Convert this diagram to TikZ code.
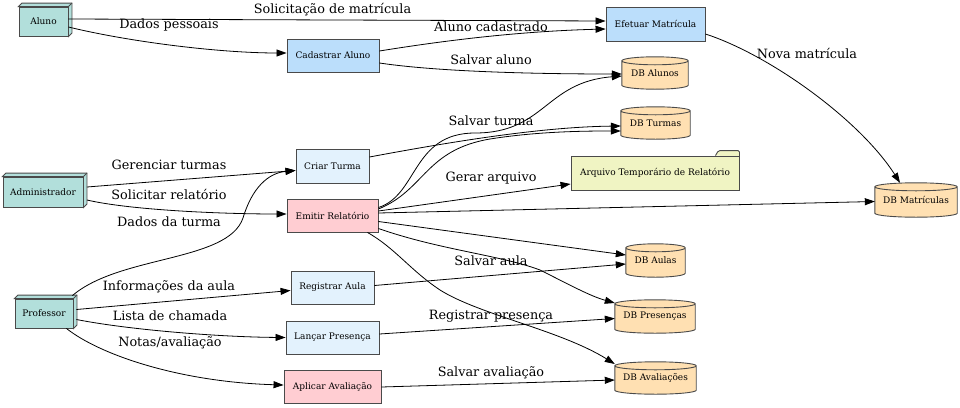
\documentclass[tikz,border=0pt]{standalone}
\usepackage{fontspec}
\setmainfont{DejaVu Serif}
\usetikzlibrary{arrows.meta,calc,backgrounds}
\definecolor{actfill}{HTML}{B2DFDB}
\definecolor{bluefill}{HTML}{BBDEFB}
\definecolor{lbluefill}{HTML}{E3F2FD}
\definecolor{redfill}{HTML}{FFCDD2}
\definecolor{dbfill}{HTML}{FFE0B2}
\definecolor{filefill}{HTML}{F0F4C3}
\definecolor{bordercol}{HTML}{4A4A4A}
\newcommand\lblfont{\fontsize{12.8}{14}\selectfont}
\newcommand\boxfont{\fontsize{9}{10}\selectfont}
\newcommand\dbcyl[1]{%
  \path let \p1=(#1.north west), \p2=(#1.south east), \n1={(\x2-\x1)/2} in
    [fill=dbfill, draw=bordercol, line width=0.9pt]
    (\x1,\y1-4pt) -- (\x1,\y2+4pt)
    arc[start angle=180,end angle=360,x radius=\n1*1pt,y radius=4pt]
    -- (\x2,\y1-4pt)
    arc[start angle=0,end angle=180,x radius=\n1*1pt,y radius=4pt] -- cycle
    (\x1,\y1-4pt) arc[start angle=180,end angle=360,x radius=\n1*1pt,y radius=4pt];
}
\newcommand\extrude[1]{%
  \draw[draw=bordercol, fill=actfill, line width=0.9pt]
    (#1.north west) -- ++(3.5pt,3.5pt) -- ([shift={(3.5pt,3.5pt)}]#1.north east)
    -- ([shift={(3.5pt,3.5pt)}]#1.south east) -- (#1.south east) -- (#1.north east) -- cycle;
  \draw[draw=bordercol, line width=0.9pt] (#1.north east) -- ++(3.5pt,3.5pt);
}
\begin{document}
\begin{tikzpicture}[x=1pt,y=-1pt,
  box/.style={rectangle, draw=bordercol, line width=0.9pt, font=\boxfont, inner sep=0pt},
  actor/.style={box, fill=actfill},
  dbnode/.style={rectangle, font=\boxfont, inner sep=0pt},
  lbl/.style={font=\lblfont, inner sep=0pt},
  flow/.style={-{Triangle[length=10pt,width=7pt]}, line width=0.8pt, black},
]
\useasboundingbox (0,0) rectangle (960,407);

% actors
\node[actor, minimum width=49pt, minimum height=29pt] (aluno) at (43.5,21.5) {Aluno};
\node[actor, minimum width=80pt, minimum height=30pt] (admin) at (43,192) {Administrador};
\node[actor, minimum width=58pt, minimum height=29pt] (prof) at (44,313.5) {Professor};

% processes
\node[box, fill=bluefill, minimum width=92pt, minimum height=33pt] (cadastrar) at (333,55.5) {Cadastrar Aluno};
\node[box, fill=bluefill, minimum width=99pt, minimum height=34pt] (efetuar) at (655.5,24) {Efetuar Matrícula};
\node[box, fill=lbluefill, minimum width=73pt, minimum height=34pt] (criar) at (332.5,166) {Criar Turma};
\node[box, fill=redfill, minimum width=91pt, minimum height=33pt] (emitir) at (332.5,215.5) {Emitir Relatório};
\node[box, fill=lbluefill, minimum width=83pt, minimum height=33pt] (registrar) at (332.5,287.5) {Registrar Aula};
\node[box, fill=lbluefill, minimum width=93pt, minimum height=33pt] (lancar) at (332.5,337.5) {Lançar Presença};
\node[box, fill=redfill, minimum width=97pt, minimum height=33pt] (aplicar) at (332.5,386.5) {Aplicar Avaliação};

% stores
\node[dbnode, minimum width=66pt, minimum height=32pt] (dbalunos) at (655,73) {DB Alunos};
\node[dbnode, minimum width=69pt, minimum height=32pt] (dbturmas) at (655.5,123) {DB Turmas};
\node[box, fill=filefill, minimum width=168pt, minimum height=34pt] (arquivo) at (655,173) {Arquivo Temporário de Relatório};
\node[dbnode, minimum width=59pt, minimum height=33pt] (dbaulas) at (655.5,260.5) {DB Aulas};
\node[dbnode, minimum width=80pt, minimum height=33pt] (dbpres) at (655,316.5) {DB Presenças};
\node[dbnode, minimum width=81pt, minimum height=32pt] (dbaval) at (655.5,378) {DB Avaliações};
\node[dbnode, minimum width=82pt, minimum height=34pt] (dbmat) at (916,200) {DB Matrículas};

\begin{pgfonlayer}{background}
  \extrude{aluno}
  \extrude{admin}
  \extrude{prof}
  \dbcyl{dbalunos}
  \dbcyl{dbturmas}
  \dbcyl{dbaulas}
  \dbcyl{dbpres}
  \dbcyl{dbaval}
  \dbcyl{dbmat}
  \draw[draw=bordercol, fill=filefill, line width=0.9pt, rounded corners=1.5pt]
    ([xshift=-24pt]arquivo.north east) -- ++(3pt,5pt)
    -- ([yshift=5pt]arquivo.north east) -- ([yshift=-1pt]arquivo.north east);
\end{pgfonlayer}

% flows
\draw[flow] ([yshift=2.5pt]aluno.east) -- ([yshift=3pt]efetuar.west);
\draw[flow] ([yshift=-5.5pt]aluno.east) .. controls (130,42) and (220,53) .. ([yshift=2.5pt]cadastrar.west);
\draw[flow] ([yshift=4.5pt]cadastrar.east) .. controls (460,38) and (530,31) .. ([yshift=-5pt]efetuar.west);
\draw[flow] ([yshift=-7.5pt]cadastrar.east) .. controls (440,72) and (540,74) .. ([yshift=-1pt]dbalunos.west);
\draw[flow] ([yshift=-10pt]efetuar.east) .. controls (770,55) and (860,120) .. ([xshift=-16pt]dbmat.north);
\draw[flow] ([xshift=3.5pt,yshift=5pt]admin.east) -- ([yshift=-4.5pt]criar.west);
\draw[flow] ([xshift=3.5pt,yshift=-8pt]admin.east) .. controls (130,210) and (220,214) .. ([yshift=1.5pt]emitir.west);
\draw[flow] ([shift={(-1pt,3pt)}]prof.north east) .. controls (120,255) and (228,262) .. (243,218)
   .. controls (252,188) and (268,173) .. ([yshift=-4.5pt]criar.west);
\draw[flow] ([yshift=9pt]criar.east) .. controls (450,142) and (540,127) .. ([yshift=-3pt]dbturmas.west);
\draw[flow] ([yshift=8pt]emitir.east) .. controls (418,195) and (412,133) .. (475,133)
   .. controls (545,133) and (545,82) .. ([yshift=-3pt]dbalunos.west);
\draw[flow] ([yshift=6.5pt]emitir.east) .. controls (425,190) and (425,150) .. (490,139)
   .. controls (540,131) and (590,131) .. ([yshift=-8pt]dbturmas.west);
\draw[flow] ([yshift=4.5pt]emitir.east) -- ([yshift=-11pt]arquivo.west);
\draw[flow] ([yshift=2.5pt]emitir.east) -- ([yshift=-1.5pt]dbmat.west);
\draw[flow] ([yshift=-6pt]emitir.east) -- ([yshift=5.5pt]dbaulas.west);
\draw[flow] ([yshift=-13pt]emitir.east) .. controls (440,250) and (500,255) .. (540,270)
   .. controls (570,285) and (590,296) .. ([yshift=13.5pt]dbpres.west);
\draw[flow] ([xshift=-11pt]emitir.south east) .. controls (395,248) and (410,270) .. (440,290)
   .. controls (480,315) and (560,330) .. ([yshift=14pt]dbaval.west);
\draw[flow] ([xshift=3pt,yshift=4pt]prof.east) -- ([yshift=-3pt]registrar.west);
\draw[flow] ([xshift=3pt,yshift=-6pt]prof.east) .. controls (130,330) and (220,337) .. (lancar.west);
\draw[flow] ([xshift=-7pt]prof.south east) .. controls (100,355) and (180,382) .. ([yshift=1.5pt]aplicar.west);
\draw[flow] ([yshift=2pt]registrar.east) -- ([yshift=-3.5pt]dbaulas.west);
\draw[flow] ([yshift=3.5pt]lancar.east) -- ([yshift=-2pt]dbpres.west);
\draw[flow] ([yshift=-0.5pt]aplicar.east) -- ([yshift=-2pt]dbaval.west);

% labels
\node[lbl] (l1) at (332.5,10) {Solicitação de matrícula};
\node[lbl] (l2) at (169,25) {Dados pessoais};
\node[lbl] (l3) at (491,27) {Aluno cadastrado};
\node[lbl] (l4) at (491,60) {Salvar aluno};
\node[lbl] (l5) at (491,121) {Salvar turma};
\node[lbl] (l6) at (491,178) {Gerar arquivo};
\node[lbl] (l7) at (169,165) {Gerenciar turmas};
\node[lbl] (l8) at (169,194) {Solicitar relatório};
\node[lbl] (l9) at (169,222) {Dados da turma};
\node[lbl] (l10) at (169,287) {Informações da aula};
\node[lbl] (l11) at (170,316) {Lista de chamada};
\node[lbl] (l12) at (170,343) {Notas/avaliação};
\node[lbl] (l13) at (491,261) {Salvar aula};
\node[lbl] (l14) at (491,316) {Registrar presença};
\node[lbl] (l15) at (491,373) {Salvar avaliação};
\node[lbl] (l16) at (807,53) {Nova matrícula};
\end{tikzpicture}
\end{document}
